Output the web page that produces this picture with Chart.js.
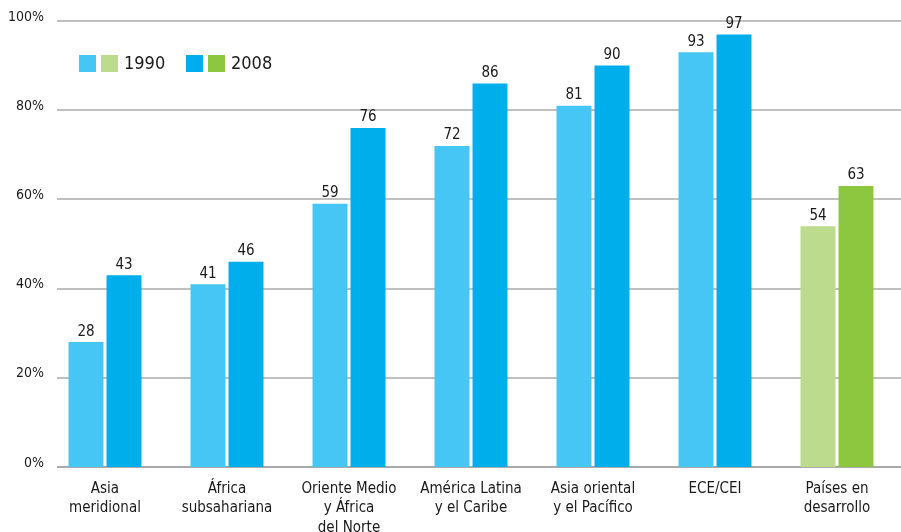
<!DOCTYPE html>
<html>
<head>
<meta charset="utf-8">
<script src="https://cdn.jsdelivr.net/npm/chart.js@4/dist/chart.umd.min.js"></script>
<style>
  html, body { margin: 0; padding: 0; background: #fff; }
  #wrap { width: 901px; height: 532px; position: relative; }
</style>
</head>
<body>
<div id="wrap"><canvas id="c" width="901" height="532"></canvas></div>
<script>
const categories = [
  ["Asia", "meridional"],
  ["África", "subsahariana"],
  ["Oriente Medio", "y África", "del Norte"],
  ["América Latina", "y el Caribe"],
  ["Asia oriental", "y el Pacífico"],
  ["ECE/CEI"],
  ["Países en", "desarrollo"]
];
const values1990 = [28, 41, 59, 72, 81, 93, 54];
const values2008 = [43, 46, 76, 86, 90, 97, 63];
const yTicks = [0, 20, 40, 60, 80, 100];
const seriesNames = ["1990", "2008"];

const FONT = "'Liberation Sans Narrow', 'DejaVu Sans Condensed', 'Roboto', sans-serif";
const C1990 = "#45C6F4", C2008 = "#00AEEB", G1990 = "#BCDB8D", G2008 = "#8DC63F";
const col1990 = categories.map((c, i) => i === categories.length - 1 ? G1990 : C1990);
const col2008 = categories.map((c, i) => i === categories.length - 1 ? G2008 : C2008);

const overlay = {
  id: 'overlay',
  beforeDatasetsDraw(chart) {
    const ctx = chart.ctx, y = chart.scales.y;
    ctx.save();
    yTicks.forEach(v => {
      const py = Math.round(y.getPixelForValue(v));
      ctx.strokeStyle = "#AAAAAA";
      ctx.lineWidth = v === 0 ? 2 : 1.5;
      ctx.beginPath();
      ctx.moveTo(57, py);
      ctx.lineTo(chart.width, py);
      ctx.stroke();
    });
    ctx.restore();
  },
  afterDatasetsDraw(chart) {
    const ctx = chart.ctx;
    ctx.save();
    ctx.fillStyle = "#1A1A1A";
    ctx.font = "15px " + FONT;
    ctx.textAlign = "center";
    ctx.textBaseline = "bottom";
    chart.data.datasets.forEach((ds, di) => {
      chart.getDatasetMeta(di).data.forEach((bar, i) => {
        ctx.fillText(String(ds.data[i]), bar.x, bar.y - 3);
      });
    });
    // legend
    const items = [[79, [C1990, G1990], seriesNames[0]], [186, [C2008, G2008], seriesNames[1]]];
    ctx.textAlign = "left";
    ctx.textBaseline = "middle";
    ctx.font = "18px " + FONT;
    items.forEach(([x, cols, label]) => {
      ctx.fillStyle = cols[0];
      ctx.fillRect(x, 55, 17, 17);
      ctx.fillStyle = cols[1];
      ctx.fillRect(x + 22, 55, 17, 17);
      ctx.fillStyle = "#1A1A1A";
      ctx.fillText(label, x + 45, 64);
    });
    ctx.restore();
  }
};

new Chart(document.getElementById('c'), {
  type: 'bar',
  data: {
    labels: categories,
    datasets: [
      { label: seriesNames[0], data: values1990, backgroundColor: col1990, borderWidth: 0 },
      { label: seriesNames[1], data: values2008, backgroundColor: col2008, borderWidth: 0 }
    ]
  },
  options: {
    responsive: false,
    animation: false,
    devicePixelRatio: 1,
    categoryPercentage: 0.623,
    barPercentage: 0.92,
    layout: { padding: { top: 21, right: 3, bottom: 0, left: 0 } },
    plugins: { legend: { display: false }, tooltip: { enabled: false } },
    scales: {
      x: {
        grid: { display: false, drawTicks: false },
        border: { display: false },
        ticks: {
          color: "#1A1A1A",
          font: { family: FONT, size: 15, lineHeight: 1.27 },
          padding: 13,
          maxRotation: 0,
          autoSkip: false
        },
        afterFit(s) { s.height = 65; }
      },
      y: {
        min: 0, max: 100,
        grid: { display: false, drawTicks: false },
        border: { display: false },
        ticks: {
          stepSize: 20,
          color: "#1A1A1A",
          font: { family: FONT, size: 14 },
          padding: 0,
          labelOffset: -4,
          callback: v => v + "%"
        },
        afterFit(s) { s.width = 44; }
      }
    }
  },
  plugins: [overlay]
});
</script>
</body>
</html>
